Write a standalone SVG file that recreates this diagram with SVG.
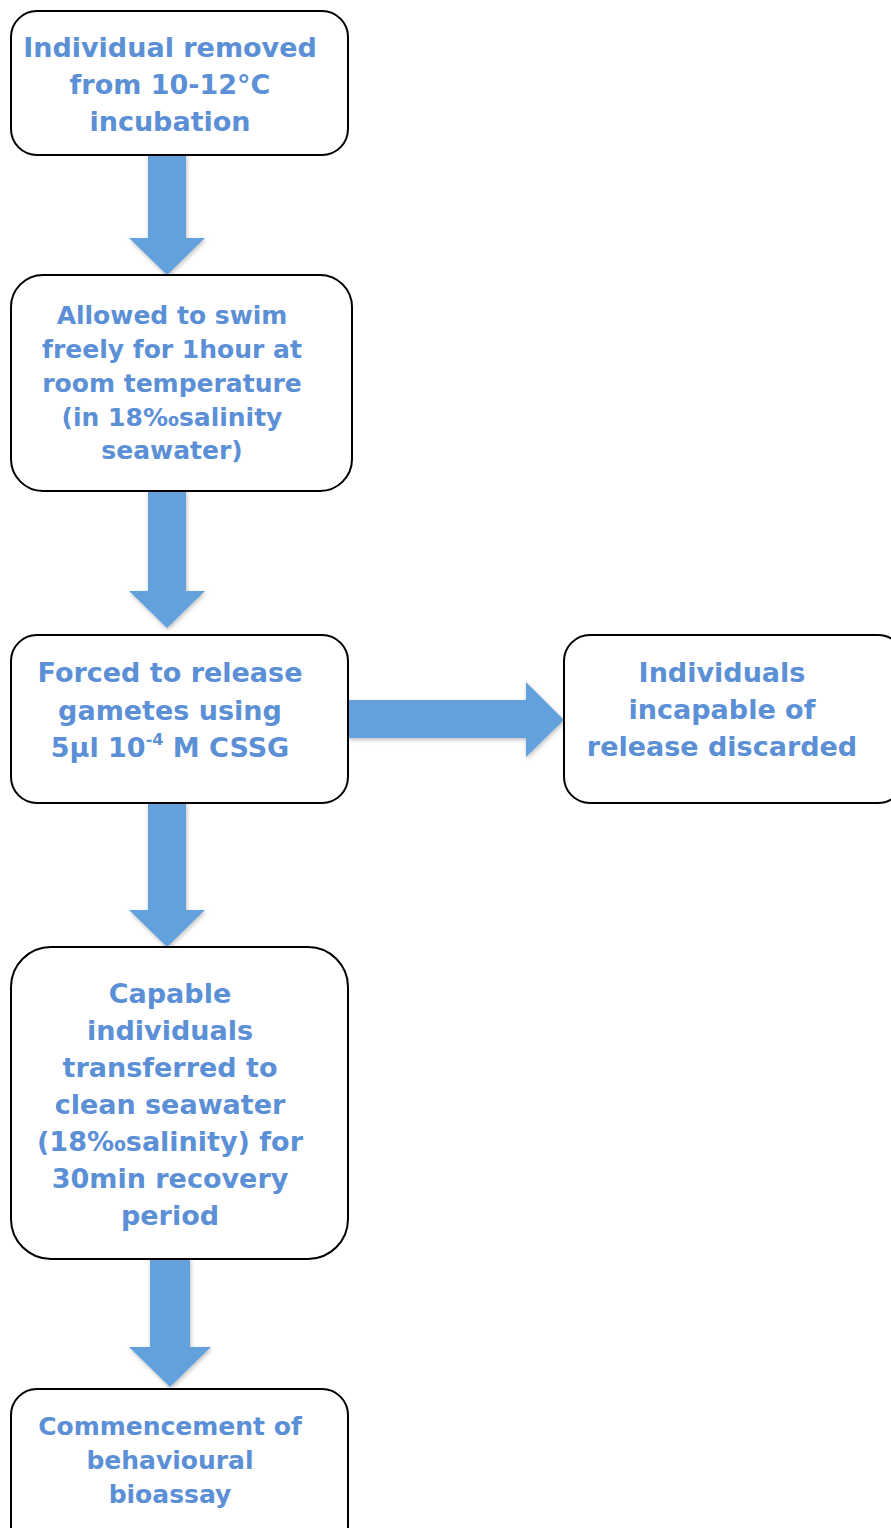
<svg xmlns="http://www.w3.org/2000/svg" width="891" height="1528" viewBox="0 0 891 1528">
<defs>
<style>
.box{fill:#ffffff;stroke:#000000;stroke-width:2}
.t{font-family:"DejaVu Sans","Liberation Sans",sans-serif;font-weight:bold;fill:#5b8fd6;text-anchor:middle}
.t28{font-size:27px}
.t26{font-size:25px}
.arr{fill:#64a1dc;filter:url(#sh)}
</style>
<filter id="sh" x="-20%" y="-20%" width="140%" height="140%">
<feDropShadow dx="1" dy="2" stdDeviation="2" flood-color="#000" flood-opacity="0.25"/>
</filter>
</defs>
<rect width="891" height="1528" fill="#ffffff"/>
<g id="connectors">
<polygon class="arr" points="148,155 186,155 186,238 205,238 167,275 129,238 148,238"/>
<polygon class="arr" points="148,491 186,491 186,591 205,591 167,628 129,591 148,591"/>
<polygon class="arr" points="348,700 526,700 526,682 564,720 526,757 526,738 348,738"/>
<polygon class="arr" points="148,803 186,803 186,910 205,910 167,947 129,910 148,910"/>
<polygon class="arr" points="150,1259 190,1259 190,1347 211,1347 170,1387 129,1347 150,1347"/>
</g>
<g id="n1">
<rect class="box" x="11" y="11" width="337" height="144" rx="26"/>
<text class="t t28" x="170" y="57">Individual removed</text>
<text class="t t28" x="170" y="94">from 10-12°C</text>
<text class="t t28" x="170" y="131">incubation</text>
</g>
<g id="n2">
<rect class="box" x="11" y="275" width="341" height="216" rx="32"/>
<text class="t t26" x="172" y="324">Allowed to swim</text>
<text class="t t26" x="172" y="358">freely for 1hour at</text>
<text class="t t26" x="172" y="392">room temperature</text>
<text class="t t26" x="172" y="426">(in 18‰salinity</text>
<text class="t t26" x="172" y="459">seawater)</text>
</g>
<g id="n3">
<rect class="box" x="11" y="635" width="337" height="168" rx="26"/>
<text class="t t28" x="170" y="682">Forced to release</text>
<text class="t t28" x="170" y="720">gametes using</text>
<text class="t t28" x="170" y="757">5µl 10<tspan font-size="16" dy="-12">-4</tspan><tspan dy="12"> M CSSG</tspan></text>
</g>
<g id="n4">
<rect class="box" x="564" y="635" width="340" height="168" rx="26"/>
<text class="t t28" x="722" y="682">Individuals</text>
<text class="t t28" x="722" y="719">incapable of</text>
<text class="t t28" x="722" y="756">release discarded</text>
</g>
<g id="n5">
<rect class="box" x="11" y="947" width="337" height="312" rx="40"/>
<text class="t t28" x="170" y="1003">Capable</text>
<text class="t t28" x="170" y="1040">individuals</text>
<text class="t t28" x="170" y="1077">transferred to</text>
<text class="t t28" x="170" y="1114">clean seawater</text>
<text class="t t28" x="170" y="1151">(18‰salinity) for</text>
<text class="t t28" x="170" y="1188">30min recovery</text>
<text class="t t28" x="170" y="1225">period</text>
</g>
<g id="n6">
<rect class="box" x="11" y="1389" width="337" height="170" rx="26"/>
<text class="t t26" x="170" y="1435">Commencement of</text>
<text class="t t26" x="170" y="1469">behavioural</text>
<text class="t t26" x="170" y="1503">bioassay</text>
</g>
</svg>
